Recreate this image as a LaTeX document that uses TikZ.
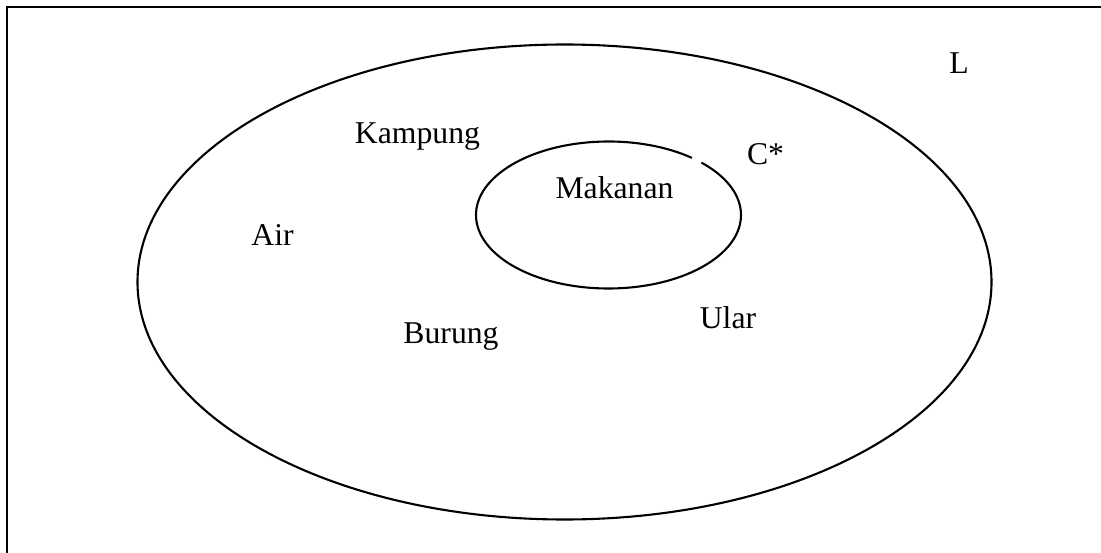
\documentclass[tikz,border=0pt]{standalone}
\usepackage{fontspec}
\setmainfont{Liberation Serif}
\begin{document}
\begin{tikzpicture}[x=1pt,y=1pt,
  lbl/.style={inner sep=0pt,anchor=base,font=\fontsize{31.7}{36}\selectfont},
  ring/.style={line width=2.1pt,black}]
\useasboundingbox (0,0) rectangle (1101,552);
% frame (only top and left edges fall inside the picture)
\coordinate (fbl) at (7,-10);
\coordinate (ftl) at (7,545);
\coordinate (ftr) at (1115,545);
\draw[line width=2.2pt] (fbl) -- (ftl) -- (ftr);
% outer set
\coordinate (oc) at (564.5,270);
\draw[ring] (oc) ellipse[x radius=427, y radius=237.5];
% inner set with a small gap
\coordinate (ic) at (608.5,337);
\draw[ring] (ic) ++(51:132.5 and 73.5) arc[start angle=51, end angle=405.5, x radius=132.5, y radius=73.5];
% labels
\node[lbl] (kampung) at (417.5,408.7) {Kampung};
\node[lbl] (air) at (272.5,306.3) {Air};
\node[lbl] (burung) at (451,208) {Burung};
\node[lbl] (makanan) at (614.5,353.7) {Makanan};
\node[lbl] (cstar) at (765.5,387) {C*};
\node[lbl] (ular) at (728,223.7) {Ular};
\node[lbl] (l) at (959,478.7) {L};
\end{tikzpicture}
\end{document}
